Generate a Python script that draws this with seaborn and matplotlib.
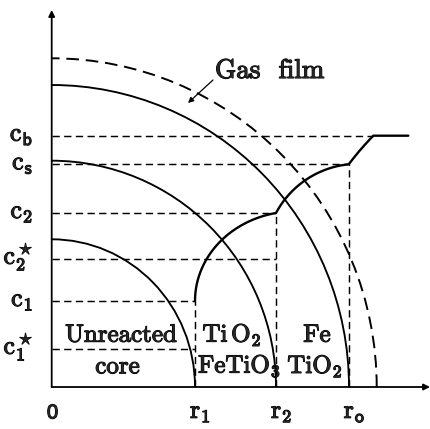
import numpy as np
import pandas as pd
import matplotlib
matplotlib.use("Agg")
import matplotlib.pyplot as plt
import matplotlib.patheffects as pe
from matplotlib.patches import Arc
import seaborn as sns

# radial positions (shell boundaries) and concentration levels
r_labels = ["0", r"$\mathrm{r}_\mathsf{1}$", r"$\mathrm{r}_\mathsf{2}$", r"$\mathrm{r}_\mathsf{o}$"]
r_values = [0.0, 143.3, 224.3, 297.0]
r_film = 325.0
r_bulk_end = 356.6

c_labels = [r"$\mathrm{c}_\mathsf{b}$", r"$\mathrm{c}_\mathsf{s}$", r"$\mathrm{c}_\mathsf{2}$",
            r"$\mathrm{c}_\mathsf{2}^\star$", r"$\mathrm{c}_\mathsf{1}$", r"$\mathrm{c}_\mathsf{1}^\star$"]
c_values = [251.3, 222.7, 174.0, 128.0, 86.0, 38.0]
c_guide_end = [321.6, 297.0, 224.3, 224.3, 143.3, 143.3]

# shell outlines: (horizontal radius, vertical radius)
shell_rx = [143.3, 224.3, 297.3]
shell_ry = [147.7, 226.3, 302.0]
film_rx, film_ry = 325.0, 328.7

sns.set_style("white")
plt.rcParams["mathtext.fontset"] = "cm"

fig = plt.figure(figsize=(4.31, 4.29), dpi=100)
ax = fig.add_axes([51.7 / 431, 42 / 429, 379.3 / 431, 382 / 429])
ax.set_xlim(0, 379.3)
ax.set_ylim(0, 382)
ax.axis("off")

guide = dict(color="black", lw=1.05, linestyle=(0, (5, 3)))

# horizontal guide lines
for c, xe in zip(c_values, c_guide_end):
    sns.lineplot(x=[0, xe], y=[c, c], ax=ax, estimator=None, sort=False, **guide)

# vertical guide lines at r1, r2, ro
for rv, cv in [(r_values[1], c_values[4]), (r_values[2], c_values[2]), (r_values[3], c_values[1])]:
    sns.lineplot(x=[rv, rv], y=[0, cv], ax=ax, estimator=None, sort=False, **guide)

# shells
for rx, ry in zip(shell_rx, shell_ry):
    ax.add_patch(Arc((0, 0), 2 * rx, 2 * ry, theta1=0, theta2=90, color="black", lw=1.35))
ax.add_patch(Arc((0, 0), 2 * film_rx, 2 * film_ry, theta1=0, theta2=90, color="black",
                 lw=1.4, linestyle=(0, (6.5, 3.5))))

# concentration profile through the product layers
r1, r2, ro = r_values[1], r_values[2], r_values[3]
cb, cs, c2, c1 = c_values[0], c_values[1], c_values[2], c_values[4]

# layer r1 -> r2 : elliptic arc, vertical at r1
a1 = 100.0
cx1 = r1 + a1
t_end = np.arccos((r2 - cx1) / a1)
b1 = (c2 - c1) / np.sin(t_end)
t = np.linspace(np.pi, t_end, 60)
seg1_x, seg1_y = cx1 + a1 * np.cos(t), c1 + b1 * np.sin(t)

# layer r2 -> ro : circular arc
cx2, cy2 = 306.4, 130.4
ta = np.arctan2(c2 - cy2, r2 - cx2)
tb = np.arctan2(cs - cy2, ro - cx2)
ra = np.hypot(r2 - cx2, c2 - cy2)
rb = np.hypot(ro - cx2, cs - cy2)
s = np.linspace(0, 1, 60)
tt = ta + (tb - ta) * s
rr = ra + (rb - ra) * s
seg2_x, seg2_y = cx2 + rr * np.cos(tt), cy2 + rr * np.sin(tt)

# gas film ro -> bulk : shallow arc
rbulk = c_guide_end[0]
cx3, cy3 = 546.9, 38.8
ta = np.arctan2(cs - cy3, ro - cx3)
tb = np.arctan2(cb - cy3, rbulk - cx3)
ra = np.hypot(ro - cx3, cs - cy3)
rb = np.hypot(rbulk - cx3, cb - cy3)
tt = ta + (tb - ta) * s
rr = ra + (rb - ra) * s
seg3_x, seg3_y = cx3 + rr * np.cos(tt), cy3 + rr * np.sin(tt)

prof = pd.DataFrame({
    "r": np.concatenate([seg1_x, seg2_x, seg3_x, [r_bulk_end]]),
    "c": np.concatenate([seg1_y, seg2_y, seg3_y, [cb]]),
})
sns.lineplot(data=prof, x="r", y="c", ax=ax, estimator=None, sort=False,
             color="black", lw=1.7)

# axes with arrows
arrow = dict(arrowstyle="-|>", color="black", lw=1.3, mutation_scale=9,
             shrinkA=0, shrinkB=0)
ax.annotate("", xy=(378.3, 0), xytext=(0, 0), arrowprops=arrow, annotation_clip=False)
ax.annotate("", xy=(0, 377), xytext=(0, 0), arrowprops=arrow, annotation_clip=False)

bold = [pe.withStroke(linewidth=0.8, foreground="black")]

# tick labels
for lab, c in zip(c_labels, c_values):
    ax.text(-18.5, c - 5, lab, ha="right", va="baseline", fontsize=18.5,
            path_effects=bold, clip_on=False)
ax.text(0.8, -26, "0", ha="center", va="center", fontsize=14.5,
        family="Liberation Sans", path_effects=bold, clip_on=False)
for lab, rv in zip(r_labels[1:], r_values[1:]):
    ax.text(rv - 5, -31, lab, ha="left", va="baseline", fontsize=18.5,
            path_effects=bold, clip_on=False)

# region names
txt = dict(fontsize=18, ha="center", va="baseline", path_effects=bold)
ax.text(69.3, 45.3, "Unreacted", family="cmr10", **txt)
ax.text(65.8, 13.7, "core", family="cmr10", **txt)
ax.text(180.3, 45.3, r"$\mathrm{Ti\,O_2}$", **txt)
ax.text(187.8, 14.3, r"$\mathrm{FeTiO_3}$", **txt)
ax.text(265.3, 45.3, "Fe", family="cmr10", **txt)
ax.text(263.3, 14.0, r"$\mathrm{TiO_2}$", **txt)

# gas film annotation
ax.text(163.3, 309, "Gas  film", family="cmr10", fontsize=19.5, ha="left",
        va="baseline", path_effects=bold)
ax.annotate("", xy=(136.3, 284), xytext=(161.3, 307),
            arrowprops=dict(arrowstyle="-|>", color="black", lw=0.9,
                            mutation_scale=8, shrinkA=0, shrinkB=0))

fig.savefig("out.png", dpi=100)
